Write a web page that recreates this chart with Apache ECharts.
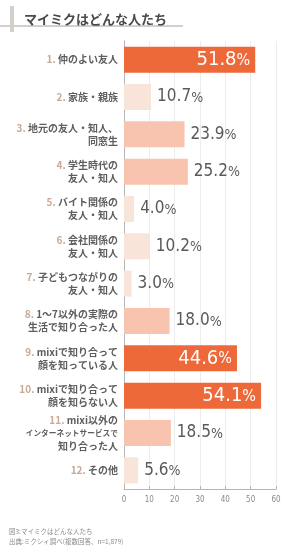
<!DOCTYPE html>
<html>
<head>
<meta charset="utf-8">
<script src="https://cdn.jsdelivr.net/npm/echarts@6/dist/echarts.min.js"></script>
<style>
  html, body { margin: 0; padding: 0; background: #fff; }
  #chart { width: 290px; height: 546px; }
</style>
</head>
<body>
<div id="chart"></div>
<script>
// 項目名（番号と本文）
const categories = [
    '1.|仲のよい友人',
    '2.|家族・親族',
    '3.|地元の友人・知人、\n同窓生',
    '4.|学生時代の\n友人・知人',
    '5.|バイト関係の\n友人・知人',
    '6.|会社関係の\n友人・知人',
    '7.|子どもつながりの\n友人・知人',
    '8.|1〜7以外の実際の\n生活で知り合った人',
    '9.|mixiで知り合って\n顔を知っている人',
    '10.|mixiで知り合って\n顔を知らない人',
    '11.|mixi以外の\nインターネットサービスで\n知り合った人',
    '12.|その他'
];
// 割合（%）
const values = [51.8, 10.7, 23.9, 25.2, 4.0, 10.2, 3.0, 18.0, 44.6, 54.1, 18.5, 5.6];
// 目盛り
const xTicks = [0, 10, 20, 30, 40, 50, 60];

// 細めの数字フォントを探す
function pickFont(list) {
    const ctx = document.createElement('canvas').getContext('2d');
    const sample = '0123456789.%';
    ctx.font = '20px monospace';
    const base = ctx.measureText(sample).width;
    for (const f of list) {
        ctx.font = '20px "' + f + '", monospace';
        if (ctx.measureText(sample).width !== base) return '"' + f + '"';
    }
    return 'sans-serif';
}
const numFont = pickFont(['Liberation Sans Narrow', 'DejaVu Sans Condensed', 'Roboto Condensed', 'Open Sans Condensed', 'Roboto']) + ', sans-serif';
const jpFont = '"Noto Sans CJK JP", sans-serif';

// 値の大きさで色分け
function barColor(v) {
    if (v >= 40) return '#ee6939';
    if (v >= 15) return '#f8c4af';
    return '#f9e4d9';
}

const seriesData = values.map(v => {
    const big = v >= 40;
    const txt = v.toFixed(1);
    return {
        value: v,
        itemStyle: { color: barColor(v) },
        label: big ? {
            position: 'insideRight',
            distance: 5,
            formatter: '{bv|' + txt + '}{bp|%}'
        } : {
            position: 'right',
            distance: 6,
            formatter: '{v|' + txt + '}{p|%}'
        }
    };
});

const chart = echarts.init(document.getElementById('chart'));

const option = {
    backgroundColor: '#fff',
    animation: false,
    title: [
        {
            text: 'マイミクはどんな人たち',
            left: 19,
            top: 8,
            textStyle: { fontFamily: jpFont, fontSize: 13, fontWeight: 'bold', color: '#4a4a4a' }
        },
        {
            text: '図3:マイミクはどんな人たち\n出典:ミクシィ調べ(複数回答、n=1,879)',
            left: 4,
            top: 522,
            textStyle: { fontFamily: jpFont, fontSize: 6.5, fontWeight: 'normal', color: '#8a8a8a', lineHeight: 10 }
        }
    ],
    graphic: [
        { type: 'rect', shape: { x: 10, y: 6, width: 4, height: 26 }, style: { fill: '#d3cfca' } },
        { type: 'rect', shape: { x: 0, y: 25, width: 183, height: 2 }, style: { fill: '#d3cfca' } }
    ],
    grid: { left: 124, top: 41, width: 152, height: 448, containLabel: false },
    xAxis: {
        type: 'value',
        min: xTicks[0],
        max: xTicks[xTicks.length - 1],
        interval: 10,
        axisLine: { show: true, lineStyle: { color: '#b5b5b5', width: 1 } },
        axisTick: { show: true, inside: true, length: 3, lineStyle: { color: '#b5b5b5' } },
        axisLabel: { color: '#8a8a8a', fontSize: 8, fontFamily: numFont, margin: 7 },
        splitLine: { show: true, lineStyle: { color: '#ececec', width: 1 } }
    },
    yAxis: {
        type: 'category',
        inverse: true,
        data: categories,
        axisLine: { show: true, lineStyle: { color: '#b5b5b5', width: 1 } },
        axisTick: { show: false },
        axisLabel: {
            margin: 6,
            lineHeight: 13,
            formatter: function (val) {
                const parts = val.split('|');
                const lines = parts[1].split('\n');
                return lines.map((ln, i) => {
                    const style = ln.length > 10 ? 's' : 't';
                    const head = i === 0 ? '{n|' + parts[0] + ' }' : '';
                    return head + '{' + style + '|' + ln + '}';
                }).join('\n');
            },
            rich: {
                n: { fontFamily: jpFont, fontSize: 10, fontWeight: 'bold', color: '#c9a995', lineHeight: 13 },
                t: { fontFamily: jpFont, fontSize: 10, fontWeight: 'bold', color: '#5e5e5e', lineHeight: 13 },
                s: { fontFamily: jpFont, fontSize: 7.7, fontWeight: 'bold', color: '#5e5e5e', lineHeight: 13 }
            }
        }
    },
    series: [{
        type: 'bar',
        data: seriesData,
        barWidth: 26,
        label: {
            show: true,
            rich: {
                v: { fontFamily: numFont, fontSize: 17, color: '#5a5a5a' },
                p: { fontFamily: numFont, fontSize: 14, color: '#5a5a5a', padding: [2, 0, 0, 0] },
                bv: { fontFamily: numFont, fontSize: 20, color: '#fff' },
                bp: { fontFamily: numFont, fontSize: 16, color: '#fff', padding: [2, 0, 0, 0] }
            }
        }
    }]
};

chart.setOption(option);
</script>
</body>
</html>
